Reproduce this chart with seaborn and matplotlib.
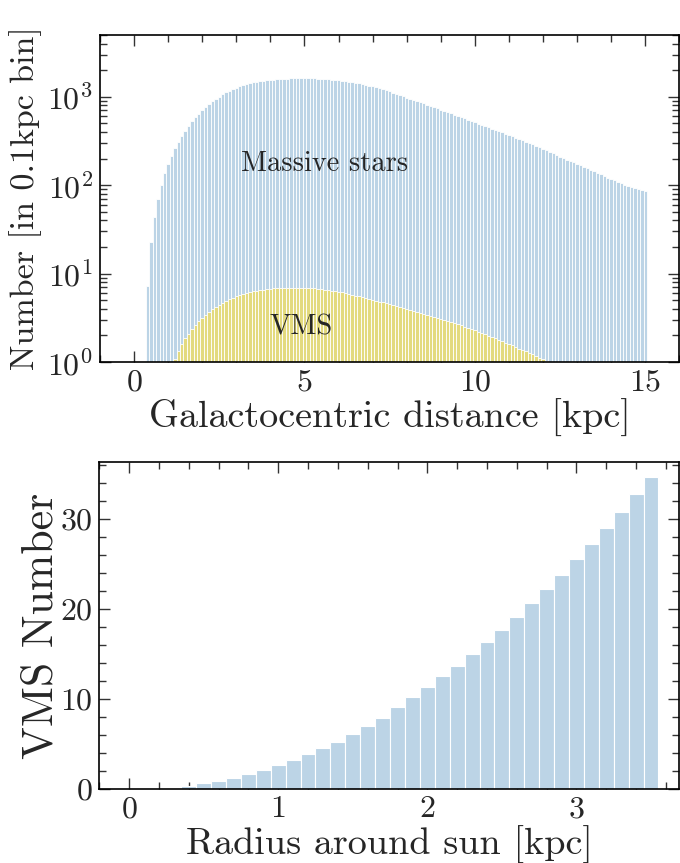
import numpy as np
import pandas as pd
import seaborn as sns
import matplotlib
matplotlib.use("Agg")
import matplotlib.pyplot as plt
from matplotlib.ticker import MultipleLocator

# --- data ------------------------------------------------------------------
# top panel: counts per 0.1 kpc bin, bin centres 0.4 ... 15.0 kpc
massive_centres = np.round(np.arange(0.4, 15.05, 0.1), 1)
massive_counts = [
    7.2, 23, 44, 70, 101, 136, 174, 216, 262, 311,
    362, 415, 471, 528, 586, 645, 705, 765, 826, 888,
    948, 1005, 1065, 1120, 1170, 1220, 1265, 1310, 1350, 1385,
    1420, 1450, 1475, 1497, 1515, 1530, 1545, 1558, 1570, 1582,
    1593, 1602, 1610, 1615, 1619, 1621,
    1622, 1619, 1615, 1610, 1605, 1598, 1590, 1579, 1567, 1554,
    1540, 1523, 1504, 1485, 1465, 1444, 1420, 1394, 1367, 1340,
    1312, 1280, 1248, 1216, 1185, 1153, 1117, 1082, 1045, 1010,
    977, 948, 920, 893, 867, 841, 815, 790, 765, 740,
    716, 694, 672, 650, 630, 610, 590, 570, 551, 533,
    515, 498, 482, 466, 451, 437, 423, 409, 395, 382,
    370, 357, 345, 333, 322, 311, 300, 289, 278, 267,
    257, 247, 238, 229, 220, 211, 203, 195, 188, 181,
    174, 168, 162, 156, 150, 145, 139, 133, 127, 122,
    117, 113, 109, 105, 101, 98, 95, 93, 91, 89,
    87,
]

# VMS counts, bin centres 1.2 ... 12.1 kpc
vms_centres = np.round(np.arange(1.2, 12.15, 0.1), 1)
vms_counts = [
    1.08, 1.35, 1.60, 1.85, 2.10, 2.36, 2.62, 2.88,
    3.15, 3.42, 3.70, 3.95, 4.20, 4.43, 4.66, 4.90, 5.12, 5.33,
    5.52, 5.70, 5.86, 6.01, 6.15, 6.28, 6.40, 6.50, 6.60, 6.68,
    6.75, 6.81, 6.86, 6.90, 6.93, 6.95, 6.96, 6.96, 6.95, 6.93,
    6.90, 6.87, 6.83, 6.79, 6.74, 6.68, 6.61, 6.53, 6.44, 6.35,
    6.25, 6.14, 6.02, 5.90, 5.78, 5.65, 5.52, 5.40, 5.28, 5.16,
    5.05, 4.94, 4.83, 4.72, 4.61, 4.50, 4.39, 4.28, 4.18, 4.08,
    3.98, 3.88, 3.79, 3.70, 3.61, 3.52, 3.43, 3.35, 3.26, 3.18,
    3.09, 3.00, 2.92, 2.84, 2.76, 2.68, 2.60, 2.52, 2.44, 2.36,
    2.28, 2.20, 2.13, 2.06, 1.99, 1.92, 1.85, 1.78, 1.72, 1.66,
    1.60, 1.54, 1.48, 1.42, 1.37, 1.32, 1.27, 1.22, 1.17, 1.12,
    1.07, 1.02,
]

# bottom panel: VMS number vs radius around the sun
radius = np.round(np.arange(0.0, 3.55, 0.1), 1)
vms_number = [
    0, 0, 0, 0.15, 0.37, 0.63, 0.89, 1.26, 1.70, 2.15,
    2.67, 3.22, 3.85, 4.52, 5.26, 6.07, 6.96, 7.85, 9.15, 10.2,
    11.3, 12.5, 13.7, 15.0, 16.3, 17.7, 19.1, 20.7, 22.2, 23.8,
    25.5, 27.2, 29.0, 30.8, 32.7, 34.6,
]

blue = "#bcd4e6"
yellow = "#e3da7e"

sns.set_style("ticks")
plt.rcParams["font.family"] = ["cmr10", "DejaVu Serif"]
plt.rcParams["mathtext.fontset"] = "cm"
plt.rcParams["axes.unicode_minus"] = False
plt.rcParams["axes.formatter.use_mathtext"] = True
plt.rcParams["axes.linewidth"] = 1.2
plt.rcParams["axes.edgecolor"] = "black"

fig = plt.figure(figsize=(6.8, 8.63), dpi=100)
ax1 = fig.add_axes([0.147, 0.5805, 0.852, 0.379])
ax2 = fig.add_axes([0.146, 0.0857, 0.853, 0.379])

df_m = pd.DataFrame({"r": massive_centres, "n": massive_counts})
df_v = pd.DataFrame({"r": vms_centres, "n": vms_counts})
df_s = pd.DataFrame({"r": radius, "n": vms_number})

sns.barplot(data=df_m, x="r", y="n", native_scale=True, width=1,
            color=blue, saturation=1, edgecolor="white", linewidth=0.6,
            errorbar=None, ax=ax1)
sns.barplot(data=df_v, x="r", y="n", native_scale=True, width=1,
            color=yellow, saturation=1, edgecolor="white", linewidth=0.6,
            errorbar=None, ax=ax1)
ax1.set_yscale("log")
ax1.set_ylim(1, 5000)
ax1.set_xlim(-1, 16)
ax1.xaxis.set_major_locator(MultipleLocator(5))
ax1.xaxis.set_minor_locator(MultipleLocator(1))
ax1.set_xlabel("Galactocentric distance [kpc]", fontsize=27.5)
ax1.set_ylabel("Number [in 0.1kpc bin]", fontsize=24.5, labelpad=4)
ax1.text(5.6, 175, "Massive stars", fontsize=20.5, ha="center", va="center")
ax1.text(4.9, 2.45, "VMS", fontsize=20.5, ha="center", va="center")

sns.barplot(data=df_s, x="r", y="n", native_scale=True, width=1,
            color=blue, saturation=1, edgecolor="white", linewidth=0.8,
            errorbar=None, ax=ax2)
ax2.set_xlim(-0.2, 3.69)
ax2.set_ylim(0, 36.3)
ax2.xaxis.set_major_locator(MultipleLocator(1))
ax2.xaxis.set_minor_locator(MultipleLocator(0.2))
ax2.yaxis.set_major_locator(MultipleLocator(10))
ax2.yaxis.set_minor_locator(MultipleLocator(2))
ax2.set_xlabel("Radius around sun [kpc]", fontsize=27.5)
ax2.set_ylabel("VMS Number", fontsize=31.5, labelpad=-1)

for ax in (ax1, ax2):
    ax.tick_params(which="both", direction="in", top=True, right=True,
                   labelsize=23, width=1.0, color="#333333")
    ax.tick_params(which="major", length=8, pad=5)
    ax.tick_params(which="minor", length=5)
    ax.xaxis.labelpad = 2
    for s in ax.spines.values():
        s.set_visible(True)
        s.set_color("black")

fig.savefig("out.png", dpi=100)
